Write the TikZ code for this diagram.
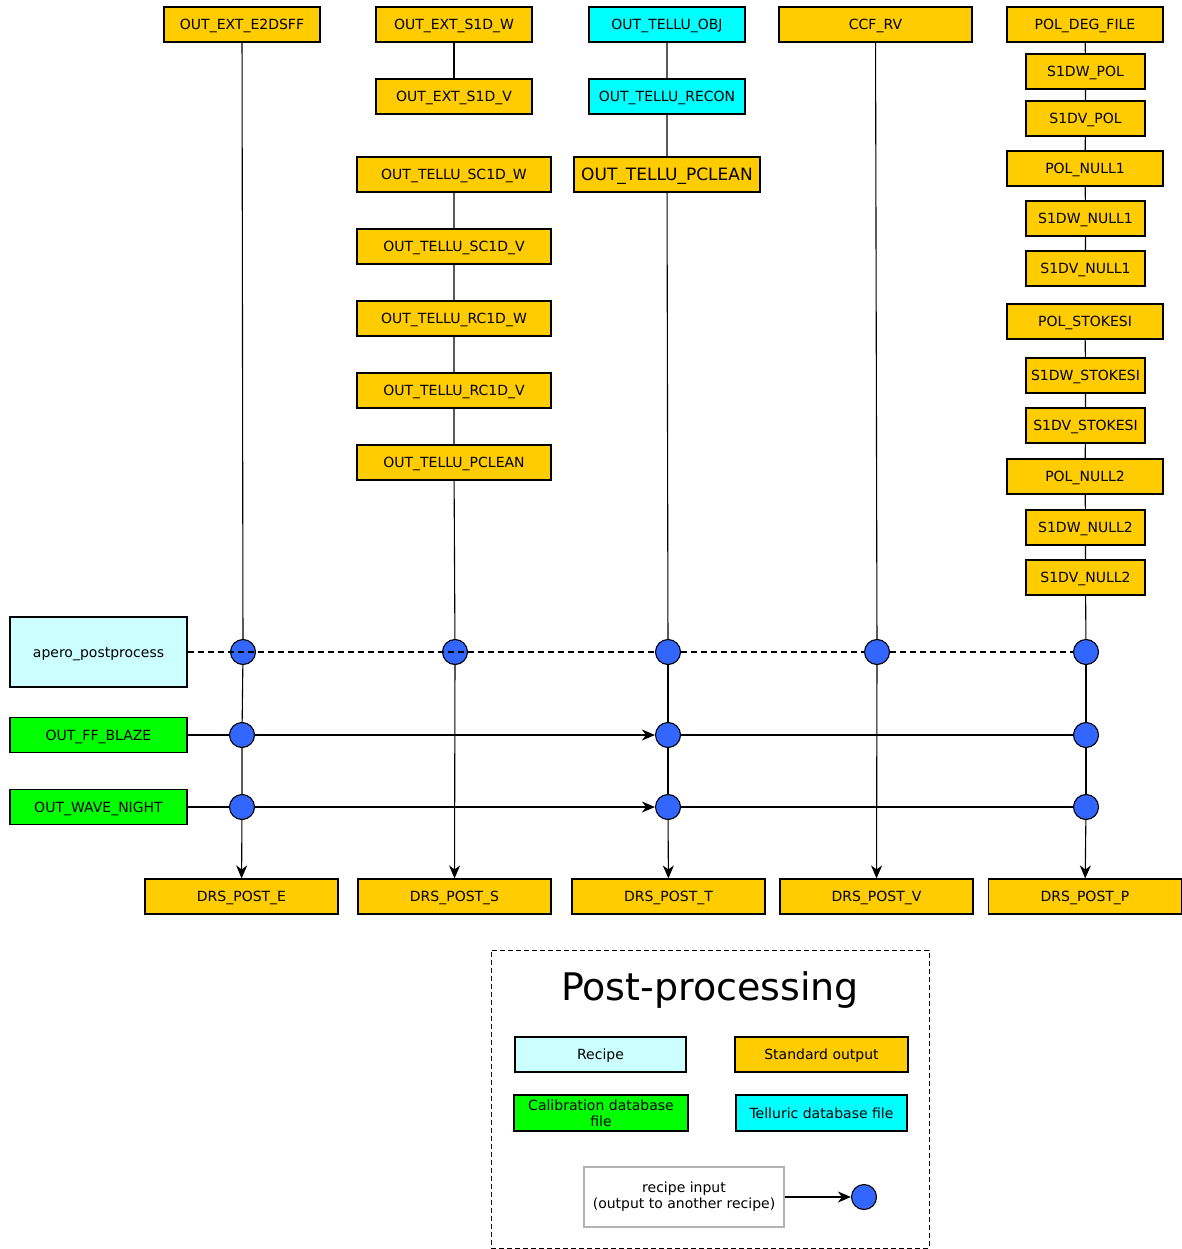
\documentclass[tikz,border=0pt]{standalone}
\usepackage{fontspec}
\setmainfont{DejaVu Sans}
\usetikzlibrary{arrows.meta, positioning, shapes.geometric}
\definecolor{stdout}{HTML}{FFCC00}
\definecolor{telfile}{HTML}{00FFFF}
\definecolor{calfile}{HTML}{00FF00}
\definecolor{recipe}{HTML}{CCFFFF}
\definecolor{indotblue}{HTML}{3366FF}

\begin{document}
\begin{tikzpicture}[
  x=1pt, y=-1pt, line width=1.1pt,
  legbox/.style={rectangle, draw=black, inner sep=0pt, minimum height=35pt, font=\fontsize{14}{16}\selectfont},
  box/.style={legbox, text height=10pt, text depth=0pt},
  stdbox/.style={box, fill=stdout},
  telbox/.style={box, fill=telfile},
  calbox/.style={box, fill=calfile},
  recbox/.style={box, fill=recipe},
  indot/.style={circle, draw=black, fill=indotblue, minimum size=25pt, inner sep=0pt},
  arrow/.style={-{Stealth[length=13pt, width=11pt, inset=4pt]}},
  dashline/.style={dash pattern=on 6pt off 4pt}
]
  \useasboundingbox (0,0) rectangle (1181,1249);

  % Top row
  \node[stdbox, minimum width=156pt] (e2dsff) at (242, 24.5)  {OUT\_EXT\_E2DSFF};
  \node[stdbox, minimum width=156pt] (s1dw)   at (454, 24.5)  {OUT\_EXT\_S1D\_W};
  \node[telbox, minimum width=156pt] (tobj)   at (667, 24.5)  {OUT\_TELLU\_OBJ};
  \node[stdbox, minimum width=193pt] (ccf)    at (875.5, 24.5) {CCF\_RV};
  \node[stdbox, minimum width=156pt] (poldeg) at (1085, 24.5) {POL\_DEG\_FILE};

  % Spectra column
  \node[stdbox, minimum width=156pt] (s1dv)  at (454, 96.5)  {OUT\_EXT\_S1D\_V};
  \node[stdbox, minimum width=194pt] (sc1dw) at (454, 174.5) {OUT\_TELLU\_SC1D\_W};
  \node[stdbox, minimum width=194pt] (sc1dv) at (454, 246.5) {OUT\_TELLU\_SC1D\_V};
  \node[stdbox, minimum width=194pt] (rc1dw) at (454, 318.5) {OUT\_TELLU\_RC1D\_W};
  \node[stdbox, minimum width=194pt] (rc1dv) at (454, 390.5) {OUT\_TELLU\_RC1D\_V};
  \node[stdbox, minimum width=194pt] (pcls)  at (454, 462.5) {OUT\_TELLU\_PCLEAN};

  % Telluric column
  \node[telbox, minimum width=156pt] (trecon) at (667, 96.5) {OUT\_TELLU\_RECON};
  \node[stdbox, minimum width=186pt, font=\fontsize{17}{19}\selectfont, text height=12pt] (pclt) at (667, 174.5) {OUT\_TELLU\_PCLEAN};

  % Polar column
  \node[stdbox, minimum width=119pt] (s1dwpol)  at (1085.5, 71.5)  {S1DW\_POL};
  \node[stdbox, minimum width=119pt] (s1dvpol)  at (1085.5, 118.5) {S1DV\_POL};
  \node[stdbox, minimum width=156pt] (null1)    at (1085, 168.5)   {POL\_NULL1};
  \node[stdbox, minimum width=119pt] (s1dwn1)   at (1085.5, 218.5) {S1DW\_NULL1};
  \node[stdbox, minimum width=119pt] (s1dvn1)   at (1085.5, 268.5) {S1DV\_NULL1};
  \node[stdbox, minimum width=156pt] (stokes)   at (1085, 321.5)   {POL\_STOKESI};
  \node[stdbox, minimum width=119pt] (s1dwst)   at (1085.5, 375.5) {S1DW\_STOKESI};
  \node[stdbox, minimum width=119pt] (s1dvst)   at (1085.5, 425.5) {S1DV\_STOKESI};
  \node[stdbox, minimum width=156pt] (null2)    at (1085, 476.5)   {POL\_NULL2};
  \node[stdbox, minimum width=119pt] (s1dwn2)   at (1085.5, 527.5) {S1DW\_NULL2};
  \node[stdbox, minimum width=119pt] (s1dvn2)   at (1085.5, 577.5) {S1DV\_NULL2};

  % Recipe and calibration inputs
  \node[recbox, minimum width=177pt, minimum height=70pt] (apero) at (98.5, 652) {apero\_postprocess};
  \node[calbox, minimum width=177pt] (blaze) at (98.5, 735) {OUT\_FF\_BLAZE};
  \node[calbox, minimum width=177pt] (wave)  at (98.5, 807) {OUT\_WAVE\_NIGHT};

  % Input points
  \node[indot] (pe) at (243, 652) {};
  \node[indot] (ps) at (455, 652) {};
  \node[indot] (pt) at (668, 652) {};
  \node[indot] (pv) at (877, 652) {};
  \node[indot] (pp) at (1086, 652) {};
  \node[indot] (be) at (242, 735) {};
  \node[indot] (bt) at (668, 735) {};
  \node[indot] (bp) at (1086, 735) {};
  \node[indot] (we) at (242, 807) {};
  \node[indot] (wt) at (668, 807) {};
  \node[indot] (wp) at (1086, 807) {};

  % Outputs
  \node[stdbox, minimum width=193pt] (poste) at (241.5, 896.5) {DRS\_POST\_E};
  \node[stdbox, minimum width=193pt] (posts) at (454.5, 896.5) {DRS\_POST\_S};
  \node[stdbox, minimum width=193pt] (postt) at (668.5, 896.5) {DRS\_POST\_T};
  \node[stdbox, minimum width=193pt] (postv) at (876.5, 896.5) {DRS\_POST\_V};
  \node[stdbox, minimum width=193pt] (postp) at (1085, 896.5)  {DRS\_POST\_P};

  % Chains
  \draw (e2dsff) -- (pe);
  \draw (s1dw) -- (s1dv);
  \draw (sc1dw) -- (sc1dv) -- (rc1dw) -- (rc1dv) -- (pcls) -- (ps);
  \draw (tobj) -- (trecon) -- (pclt) -- (pt);
  \draw (ccf) -- (pv);
  \draw (poldeg) -- (s1dwpol) -- (s1dvpol) -- (null1) -- (s1dwn1) -- (s1dvn1);
  \draw (stokes) -- (s1dwst) -- (s1dvst) -- (null2) -- (s1dwn2) -- (s1dvn2) -- (pp);

  % Recipe links
  \draw[dashline] (apero) -- (pt);
  \draw[dashline] (pt) -- (pv);
  \draw[dashline] (pv) -- (pp);

  % Calibration links
  \draw (blaze) -- (be);
  \draw[arrow] (be) -- (bt);
  \draw (bt) -- (bp);
  \draw (wave) -- (we);
  \draw[arrow] (we) -- (wt);
  \draw (wt) -- (wp);

  % Down to outputs
  \draw (pe) -- (be) -- (we);
  \draw[arrow] (we) -- (poste);
  \draw[arrow] (ps) -- (posts);
  \draw (pt) -- (bt) -- (wt);
  \draw[arrow] (wt) -- (postt);
  \draw[arrow] (pv) -- (postv);
  \draw (pp) -- (bp) -- (wp);
  \draw[arrow] (wp) -- (postp);

  % Legend
  \node[draw=black, dash pattern=on 5pt off 3pt, line width=0.9pt, minimum width=438pt, minimum height=298pt, inner sep=0pt] (legend) at (710, 1099) {};
  \node[font=\fontsize{38}{44}\selectfont] (title) at (710, 990) {Post-processing};
  \node[recbox, minimum width=171pt] (lrec) at (600.5, 1054.5) {Recipe};
  \node[stdbox, minimum width=173pt] (lstd) at (821.5, 1054.5) {Standard output};
  \node[legbox, fill=calfile, minimum width=174pt, minimum height=36pt, align=center] (lcal) at (601, 1113) {Calibration database\\file};
  \node[telbox, minimum width=171pt, minimum height=36pt] (ltel) at (821.5, 1113) {Telluric database file};
  \node[legbox, draw=black!30, fill=white, minimum width=200pt, minimum height=60pt, align=center] (linput) at (684, 1197) {recipe input\\(output to another recipe)};
  \node[indot] (ldot) at (864, 1197) {};
  \draw[arrow] (linput) -- (ldot);
\end{tikzpicture}
\end{document}
